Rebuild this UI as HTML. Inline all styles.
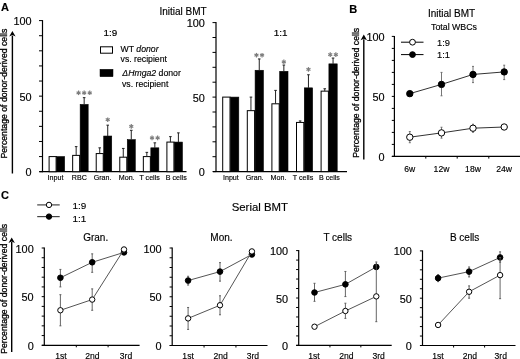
<!DOCTYPE html>
<html><head><meta charset="utf-8"><style>
html,body{margin:0;padding:0;background:#fff;}
svg{display:block;font-family:"Liberation Sans", sans-serif;will-change:transform;filter:blur(0.35px);}
text{stroke:#000;stroke-width:0.15px;}
</style></head><body>
<svg width="520" height="359" viewBox="0 0 520 359">
<rect width="520" height="359" fill="#fff"/>
<text x="1.00" y="10.60" font-size="11" text-anchor="start" font-weight="bold" font-style="normal" fill="#000" >A</text>
<text x="159.50" y="14.80" font-size="10" text-anchor="start" font-weight="normal" font-style="normal" fill="#000" >Initial BMT</text>
<text x="0" y="0" font-size="8.8" text-anchor="middle" style="stroke-width:0.3px" transform="translate(7.20,93.60) rotate(-90)" textLength="130" lengthAdjust="spacingAndGlyphs">Percentage of donor-derived cells</text>
<line x1="12.40" y1="173.50" x2="12.40" y2="35.60" stroke="#000" stroke-width="1.4"/>
<path d="M9.20,36.60 L12.40,31.00 L15.60,36.60 L12.40,35.10 Z" fill="#000"/>
<line x1="42.50" y1="20.10" x2="42.50" y2="172.20" stroke="#000" stroke-width="1.2"/>
<line x1="39.00" y1="171.70" x2="42.50" y2="171.70" stroke="#000" stroke-width="1"/>
<line x1="39.00" y1="156.59" x2="42.50" y2="156.59" stroke="#000" stroke-width="1"/>
<line x1="39.00" y1="141.48" x2="42.50" y2="141.48" stroke="#000" stroke-width="1"/>
<line x1="39.00" y1="126.37" x2="42.50" y2="126.37" stroke="#000" stroke-width="1"/>
<line x1="39.00" y1="111.26" x2="42.50" y2="111.26" stroke="#000" stroke-width="1"/>
<line x1="39.00" y1="96.15" x2="42.50" y2="96.15" stroke="#000" stroke-width="1"/>
<line x1="39.00" y1="81.04" x2="42.50" y2="81.04" stroke="#000" stroke-width="1"/>
<line x1="39.00" y1="65.93" x2="42.50" y2="65.93" stroke="#000" stroke-width="1"/>
<line x1="39.00" y1="50.82" x2="42.50" y2="50.82" stroke="#000" stroke-width="1"/>
<line x1="39.00" y1="35.71" x2="42.50" y2="35.71" stroke="#000" stroke-width="1"/>
<line x1="39.00" y1="20.60" x2="42.50" y2="20.60" stroke="#000" stroke-width="1"/>
<line x1="39.50" y1="171.70" x2="186.50" y2="171.70" stroke="#000" stroke-width="1.2"/>
<text x="31.60" y="176.20" font-size="10.9" text-anchor="end" font-weight="normal" font-style="normal" fill="#000" >0</text>
<text x="31.60" y="100.65" font-size="10.9" text-anchor="end" font-weight="normal" font-style="normal" fill="#000" >50</text>
<text x="31.60" y="25.10" font-size="10.9" text-anchor="end" font-weight="normal" font-style="normal" fill="#000" >100</text>
<rect x="49.10" y="156.59" width="7.00" height="15.11" fill="#fff" stroke="#000" stroke-width="1"/>
<rect x="56.60" y="156.59" width="8.00" height="15.11" fill="#000" stroke="#000" stroke-width="0.6"/>
<text x="55.50" y="180.20" font-size="7.1" text-anchor="middle" font-weight="normal" font-style="normal" fill="#000" >Input</text>
<rect x="72.66" y="155.38" width="7.00" height="16.32" fill="#fff" stroke="#000" stroke-width="1"/>
<rect x="80.16" y="104.46" width="8.00" height="67.24" fill="#000" stroke="#000" stroke-width="0.6"/>
<line x1="76.16" y1="155.38" x2="76.16" y2="146.62" stroke="#222" stroke-width="1.0"/>
<line x1="74.86" y1="146.62" x2="77.46" y2="146.62" stroke="#222" stroke-width="1.0"/>
<line x1="84.16" y1="104.46" x2="84.16" y2="97.66" stroke="#222" stroke-width="1.0"/>
<line x1="82.86" y1="97.66" x2="85.46" y2="97.66" stroke="#222" stroke-width="1.0"/>
<line x1="78.56" y1="90.50" x2="78.56" y2="95.10" stroke="#7c7c7c" stroke-width="1.2"/>
<line x1="76.57" y1="91.65" x2="80.55" y2="93.95" stroke="#7c7c7c" stroke-width="1.2"/>
<line x1="76.57" y1="93.95" x2="80.55" y2="91.65" stroke="#7c7c7c" stroke-width="1.2"/>
<line x1="84.16" y1="90.50" x2="84.16" y2="95.10" stroke="#7c7c7c" stroke-width="1.2"/>
<line x1="82.17" y1="91.65" x2="86.15" y2="93.95" stroke="#7c7c7c" stroke-width="1.2"/>
<line x1="82.17" y1="93.95" x2="86.15" y2="91.65" stroke="#7c7c7c" stroke-width="1.2"/>
<line x1="89.76" y1="90.50" x2="89.76" y2="95.10" stroke="#7c7c7c" stroke-width="1.2"/>
<line x1="87.77" y1="91.65" x2="91.75" y2="93.95" stroke="#7c7c7c" stroke-width="1.2"/>
<line x1="87.77" y1="93.95" x2="91.75" y2="91.65" stroke="#7c7c7c" stroke-width="1.2"/>
<text x="79.30" y="180.20" font-size="7.1" text-anchor="middle" font-weight="normal" font-style="normal" fill="#000" >RBC</text>
<rect x="96.22" y="153.57" width="7.00" height="18.13" fill="#fff" stroke="#000" stroke-width="1"/>
<rect x="103.72" y="136.04" width="8.00" height="35.66" fill="#000" stroke="#000" stroke-width="0.6"/>
<line x1="99.72" y1="153.57" x2="99.72" y2="147.83" stroke="#222" stroke-width="1.0"/>
<line x1="98.42" y1="147.83" x2="101.02" y2="147.83" stroke="#222" stroke-width="1.0"/>
<line x1="107.72" y1="136.04" x2="107.72" y2="125.16" stroke="#222" stroke-width="1.0"/>
<line x1="106.42" y1="125.16" x2="109.02" y2="125.16" stroke="#222" stroke-width="1.0"/>
<line x1="107.72" y1="117.40" x2="107.72" y2="122.00" stroke="#7c7c7c" stroke-width="1.2"/>
<line x1="105.73" y1="118.55" x2="109.71" y2="120.85" stroke="#7c7c7c" stroke-width="1.2"/>
<line x1="105.73" y1="120.85" x2="109.71" y2="118.55" stroke="#7c7c7c" stroke-width="1.2"/>
<text x="102.60" y="180.20" font-size="7.1" text-anchor="middle" font-weight="normal" font-style="normal" fill="#000" >Gran.</text>
<rect x="119.78" y="157.19" width="7.00" height="14.51" fill="#fff" stroke="#000" stroke-width="1"/>
<rect x="127.28" y="139.67" width="8.00" height="32.03" fill="#000" stroke="#000" stroke-width="0.6"/>
<line x1="123.28" y1="157.19" x2="123.28" y2="148.43" stroke="#222" stroke-width="1.0"/>
<line x1="121.98" y1="148.43" x2="124.58" y2="148.43" stroke="#222" stroke-width="1.0"/>
<line x1="131.28" y1="139.67" x2="131.28" y2="130.30" stroke="#222" stroke-width="1.0"/>
<line x1="129.98" y1="130.30" x2="132.58" y2="130.30" stroke="#222" stroke-width="1.0"/>
<line x1="131.28" y1="124.10" x2="131.28" y2="128.70" stroke="#7c7c7c" stroke-width="1.2"/>
<line x1="129.29" y1="125.25" x2="133.27" y2="127.55" stroke="#7c7c7c" stroke-width="1.2"/>
<line x1="129.29" y1="127.55" x2="133.27" y2="125.25" stroke="#7c7c7c" stroke-width="1.2"/>
<text x="126.70" y="180.20" font-size="7.1" text-anchor="middle" font-weight="normal" font-style="normal" fill="#000" >Mon.</text>
<rect x="143.34" y="156.59" width="7.00" height="15.11" fill="#fff" stroke="#000" stroke-width="1"/>
<rect x="150.84" y="147.83" width="8.00" height="23.87" fill="#000" stroke="#000" stroke-width="0.6"/>
<line x1="146.84" y1="156.59" x2="146.84" y2="152.36" stroke="#222" stroke-width="1.0"/>
<line x1="145.54" y1="152.36" x2="148.14" y2="152.36" stroke="#222" stroke-width="1.0"/>
<line x1="154.84" y1="147.83" x2="154.84" y2="142.84" stroke="#222" stroke-width="1.0"/>
<line x1="153.54" y1="142.84" x2="156.14" y2="142.84" stroke="#222" stroke-width="1.0"/>
<line x1="152.04" y1="135.60" x2="152.04" y2="140.20" stroke="#7c7c7c" stroke-width="1.2"/>
<line x1="150.05" y1="136.75" x2="154.03" y2="139.05" stroke="#7c7c7c" stroke-width="1.2"/>
<line x1="150.05" y1="139.05" x2="154.03" y2="136.75" stroke="#7c7c7c" stroke-width="1.2"/>
<line x1="157.64" y1="135.60" x2="157.64" y2="140.20" stroke="#7c7c7c" stroke-width="1.2"/>
<line x1="155.65" y1="136.75" x2="159.63" y2="139.05" stroke="#7c7c7c" stroke-width="1.2"/>
<line x1="155.65" y1="139.05" x2="159.63" y2="136.75" stroke="#7c7c7c" stroke-width="1.2"/>
<text x="149.60" y="180.20" font-size="7.1" text-anchor="middle" font-weight="normal" font-style="normal" fill="#000" >T cells</text>
<rect x="166.90" y="142.08" width="7.00" height="29.62" fill="#fff" stroke="#000" stroke-width="1"/>
<rect x="174.40" y="142.08" width="8.00" height="29.62" fill="#000" stroke="#000" stroke-width="0.6"/>
<line x1="170.40" y1="142.08" x2="170.40" y2="136.64" stroke="#222" stroke-width="1.0"/>
<line x1="169.10" y1="136.64" x2="171.70" y2="136.64" stroke="#222" stroke-width="1.0"/>
<line x1="178.40" y1="142.08" x2="178.40" y2="132.87" stroke="#222" stroke-width="1.0"/>
<line x1="177.10" y1="132.87" x2="179.70" y2="132.87" stroke="#222" stroke-width="1.0"/>
<text x="176.30" y="180.20" font-size="7.1" text-anchor="middle" font-weight="normal" font-style="normal" fill="#000" >B cells</text>
<text x="103.60" y="36.30" font-size="9.9" text-anchor="start" font-weight="normal" font-style="normal" fill="#000" style="stroke-width:0.2px">1:9</text>
<rect x="100.50" y="46.80" width="12.00" height="6.40" fill="#fff" stroke="#000" stroke-width="1"/>
<rect x="100.00" y="69.30" width="13.00" height="7.40" fill="#000" stroke="#000" stroke-width="0.5"/>
<text x="120.6" y="51.9" font-size="8.7">WT <tspan font-style="italic">donor</tspan></text>
<text x="120.60" y="62.40" font-size="8.7" text-anchor="start" font-weight="normal" font-style="normal" fill="#000" >vs. recipient</text>
<text x="122.3" y="76.0" font-size="8.7"><tspan font-style="italic">ΔHmga2</tspan> donor</text>
<text x="122.00" y="86.50" font-size="8.7" text-anchor="start" font-weight="normal" font-style="normal" fill="#000" >vs. recipient</text>
<line x1="216.00" y1="22.10" x2="216.00" y2="172.10" stroke="#000" stroke-width="1.2"/>
<line x1="212.50" y1="171.60" x2="216.00" y2="171.60" stroke="#000" stroke-width="1"/>
<line x1="212.50" y1="156.70" x2="216.00" y2="156.70" stroke="#000" stroke-width="1"/>
<line x1="212.50" y1="141.80" x2="216.00" y2="141.80" stroke="#000" stroke-width="1"/>
<line x1="212.50" y1="126.90" x2="216.00" y2="126.90" stroke="#000" stroke-width="1"/>
<line x1="212.50" y1="112.00" x2="216.00" y2="112.00" stroke="#000" stroke-width="1"/>
<line x1="212.50" y1="97.10" x2="216.00" y2="97.10" stroke="#000" stroke-width="1"/>
<line x1="212.50" y1="82.20" x2="216.00" y2="82.20" stroke="#000" stroke-width="1"/>
<line x1="212.50" y1="67.30" x2="216.00" y2="67.30" stroke="#000" stroke-width="1"/>
<line x1="212.50" y1="52.40" x2="216.00" y2="52.40" stroke="#000" stroke-width="1"/>
<line x1="212.50" y1="37.50" x2="216.00" y2="37.50" stroke="#000" stroke-width="1"/>
<line x1="212.50" y1="22.60" x2="216.00" y2="22.60" stroke="#000" stroke-width="1"/>
<line x1="213.00" y1="171.60" x2="347.00" y2="171.60" stroke="#000" stroke-width="1.2"/>
<text x="204.80" y="176.10" font-size="10.9" text-anchor="end" font-weight="normal" font-style="normal" fill="#000" >0</text>
<text x="204.80" y="101.60" font-size="10.9" text-anchor="end" font-weight="normal" font-style="normal" fill="#000" >50</text>
<text x="204.80" y="27.10" font-size="10.9" text-anchor="end" font-weight="normal" font-style="normal" fill="#000" >100</text>
<text x="273.80" y="36.10" font-size="9.9" text-anchor="start" font-weight="normal" font-style="normal" fill="#000" style="stroke-width:0.2px">1:1</text>
<rect x="222.70" y="97.10" width="7.30" height="74.50" fill="#fff" stroke="#000" stroke-width="1"/>
<rect x="230.50" y="97.10" width="8.30" height="74.50" fill="#000" stroke="#000" stroke-width="0.6"/>
<text x="230.90" y="180.20" font-size="7.1" text-anchor="middle" font-weight="normal" font-style="normal" fill="#000" >Input</text>
<rect x="247.30" y="110.66" width="7.30" height="60.94" fill="#fff" stroke="#000" stroke-width="1"/>
<rect x="255.10" y="70.28" width="8.30" height="101.32" fill="#000" stroke="#000" stroke-width="0.6"/>
<line x1="250.95" y1="110.66" x2="250.95" y2="97.10" stroke="#222" stroke-width="1.0"/>
<line x1="249.65" y1="97.10" x2="252.25" y2="97.10" stroke="#222" stroke-width="1.0"/>
<line x1="259.25" y1="70.28" x2="259.25" y2="58.96" stroke="#222" stroke-width="1.0"/>
<line x1="257.95" y1="58.96" x2="260.55" y2="58.96" stroke="#222" stroke-width="1.0"/>
<line x1="256.45" y1="52.90" x2="256.45" y2="57.50" stroke="#7c7c7c" stroke-width="1.2"/>
<line x1="254.46" y1="54.05" x2="258.44" y2="56.35" stroke="#7c7c7c" stroke-width="1.2"/>
<line x1="254.46" y1="56.35" x2="258.44" y2="54.05" stroke="#7c7c7c" stroke-width="1.2"/>
<line x1="262.05" y1="52.90" x2="262.05" y2="57.50" stroke="#7c7c7c" stroke-width="1.2"/>
<line x1="260.06" y1="54.05" x2="264.04" y2="56.35" stroke="#7c7c7c" stroke-width="1.2"/>
<line x1="260.06" y1="56.35" x2="264.04" y2="54.05" stroke="#7c7c7c" stroke-width="1.2"/>
<text x="254.70" y="180.20" font-size="7.1" text-anchor="middle" font-weight="normal" font-style="normal" fill="#000" >Gran.</text>
<rect x="271.90" y="103.80" width="7.30" height="67.80" fill="#fff" stroke="#000" stroke-width="1"/>
<rect x="279.70" y="71.32" width="8.30" height="100.28" fill="#000" stroke="#000" stroke-width="0.6"/>
<line x1="275.55" y1="103.80" x2="275.55" y2="90.39" stroke="#222" stroke-width="1.0"/>
<line x1="274.25" y1="90.39" x2="276.85" y2="90.39" stroke="#222" stroke-width="1.0"/>
<line x1="283.85" y1="71.32" x2="283.85" y2="65.06" stroke="#222" stroke-width="1.0"/>
<line x1="282.55" y1="65.06" x2="285.15" y2="65.06" stroke="#222" stroke-width="1.0"/>
<line x1="283.85" y1="59.50" x2="283.85" y2="64.10" stroke="#7c7c7c" stroke-width="1.2"/>
<line x1="281.86" y1="60.65" x2="285.84" y2="62.95" stroke="#7c7c7c" stroke-width="1.2"/>
<line x1="281.86" y1="62.95" x2="285.84" y2="60.65" stroke="#7c7c7c" stroke-width="1.2"/>
<text x="278.50" y="180.20" font-size="7.1" text-anchor="middle" font-weight="normal" font-style="normal" fill="#000" >Mon.</text>
<rect x="296.50" y="122.43" width="7.30" height="49.17" fill="#fff" stroke="#000" stroke-width="1"/>
<rect x="304.30" y="87.86" width="8.30" height="83.74" fill="#000" stroke="#000" stroke-width="0.6"/>
<line x1="300.15" y1="122.43" x2="300.15" y2="120.94" stroke="#222" stroke-width="1.0"/>
<line x1="298.85" y1="120.94" x2="301.45" y2="120.94" stroke="#222" stroke-width="1.0"/>
<line x1="308.45" y1="87.86" x2="308.45" y2="74.75" stroke="#222" stroke-width="1.0"/>
<line x1="307.15" y1="74.75" x2="309.75" y2="74.75" stroke="#222" stroke-width="1.0"/>
<line x1="308.45" y1="67.10" x2="308.45" y2="71.70" stroke="#7c7c7c" stroke-width="1.2"/>
<line x1="306.46" y1="68.25" x2="310.44" y2="70.55" stroke="#7c7c7c" stroke-width="1.2"/>
<line x1="306.46" y1="70.55" x2="310.44" y2="68.25" stroke="#7c7c7c" stroke-width="1.2"/>
<text x="303.00" y="180.20" font-size="7.1" text-anchor="middle" font-weight="normal" font-style="normal" fill="#000" >T cells</text>
<rect x="321.10" y="91.14" width="7.30" height="80.46" fill="#fff" stroke="#000" stroke-width="1"/>
<rect x="328.90" y="63.87" width="8.30" height="107.73" fill="#000" stroke="#000" stroke-width="0.6"/>
<line x1="324.75" y1="91.14" x2="324.75" y2="88.76" stroke="#222" stroke-width="1.0"/>
<line x1="323.45" y1="88.76" x2="326.05" y2="88.76" stroke="#222" stroke-width="1.0"/>
<line x1="333.05" y1="63.87" x2="333.05" y2="58.06" stroke="#222" stroke-width="1.0"/>
<line x1="331.75" y1="58.06" x2="334.35" y2="58.06" stroke="#222" stroke-width="1.0"/>
<line x1="330.25" y1="52.30" x2="330.25" y2="56.90" stroke="#7c7c7c" stroke-width="1.2"/>
<line x1="328.26" y1="53.45" x2="332.24" y2="55.75" stroke="#7c7c7c" stroke-width="1.2"/>
<line x1="328.26" y1="55.75" x2="332.24" y2="53.45" stroke="#7c7c7c" stroke-width="1.2"/>
<line x1="335.85" y1="52.30" x2="335.85" y2="56.90" stroke="#7c7c7c" stroke-width="1.2"/>
<line x1="333.86" y1="53.45" x2="337.84" y2="55.75" stroke="#7c7c7c" stroke-width="1.2"/>
<line x1="333.86" y1="55.75" x2="337.84" y2="53.45" stroke="#7c7c7c" stroke-width="1.2"/>
<text x="329.40" y="180.20" font-size="7.1" text-anchor="middle" font-weight="normal" font-style="normal" fill="#000" >B cells</text>
<text x="349.20" y="13.30" font-size="11" text-anchor="start" font-weight="bold" font-style="normal" fill="#000" >B</text>
<text x="428.00" y="17.00" font-size="10" text-anchor="start" font-weight="normal" font-style="normal" fill="#000" >Initial BMT</text>
<text x="431.00" y="29.60" font-size="8.8" text-anchor="start" font-weight="normal" font-style="normal" fill="#000" >Total WBCs</text>
<text x="0" y="0" font-size="8.8" text-anchor="middle" style="stroke-width:0.3px" transform="translate(359.20,92.80) rotate(-90)" textLength="130" lengthAdjust="spacingAndGlyphs">Percentage of donor-derived cells</text>
<line x1="363.80" y1="159.50" x2="363.80" y2="39.20" stroke="#000" stroke-width="1.4"/>
<path d="M360.60,40.20 L363.80,34.60 L367.00,40.20 L363.80,38.70 Z" fill="#000"/>
<line x1="401.00" y1="42.20" x2="423.50" y2="42.20" stroke="#000" stroke-width="1"/>
<circle cx="412.50" cy="42.20" r="2.9" fill="#fff" stroke="#000" stroke-width="1"/>
<line x1="401.00" y1="54.60" x2="423.50" y2="54.60" stroke="#000" stroke-width="1"/>
<circle cx="412.50" cy="54.60" r="2.9" fill="#000" stroke="#000" stroke-width="1"/>
<text x="437.00" y="45.60" font-size="9.3" text-anchor="start" font-weight="normal" font-style="normal" fill="#000" >1:9</text>
<text x="437.00" y="58.40" font-size="9.3" text-anchor="start" font-weight="normal" font-style="normal" fill="#000" >1:1</text>
<line x1="394.40" y1="35.90" x2="394.40" y2="156.90" stroke="#000" stroke-width="1.2"/>
<line x1="391.80" y1="156.40" x2="394.40" y2="156.40" stroke="#000" stroke-width="1"/>
<line x1="391.80" y1="144.40" x2="394.40" y2="144.40" stroke="#000" stroke-width="1"/>
<line x1="391.80" y1="132.40" x2="394.40" y2="132.40" stroke="#000" stroke-width="1"/>
<line x1="391.80" y1="120.40" x2="394.40" y2="120.40" stroke="#000" stroke-width="1"/>
<line x1="391.80" y1="108.40" x2="394.40" y2="108.40" stroke="#000" stroke-width="1"/>
<line x1="391.80" y1="96.40" x2="394.40" y2="96.40" stroke="#000" stroke-width="1"/>
<line x1="391.80" y1="84.40" x2="394.40" y2="84.40" stroke="#000" stroke-width="1"/>
<line x1="391.80" y1="72.40" x2="394.40" y2="72.40" stroke="#000" stroke-width="1"/>
<line x1="391.80" y1="60.40" x2="394.40" y2="60.40" stroke="#000" stroke-width="1"/>
<line x1="391.80" y1="48.40" x2="394.40" y2="48.40" stroke="#000" stroke-width="1"/>
<line x1="391.80" y1="36.40" x2="394.40" y2="36.40" stroke="#000" stroke-width="1"/>
<line x1="391.90" y1="156.40" x2="520.00" y2="156.40" stroke="#000" stroke-width="1.2"/>
<line x1="425.80" y1="156.40" x2="425.80" y2="158.60" stroke="#000" stroke-width="1"/>
<line x1="457.20" y1="156.40" x2="457.20" y2="158.60" stroke="#000" stroke-width="1"/>
<line x1="488.80" y1="156.40" x2="488.80" y2="158.60" stroke="#000" stroke-width="1"/>
<text x="384.60" y="160.90" font-size="10.9" text-anchor="end" font-weight="normal" font-style="normal" fill="#000" >0</text>
<text x="384.60" y="100.90" font-size="10.9" text-anchor="end" font-weight="normal" font-style="normal" fill="#000" >50</text>
<text x="384.60" y="40.90" font-size="10.9" text-anchor="end" font-weight="normal" font-style="normal" fill="#000" >100</text>
<text x="409.80" y="171.60" font-size="8.6" text-anchor="middle" font-weight="normal" font-style="normal" fill="#000" >6w</text>
<text x="441.50" y="171.60" font-size="8.6" text-anchor="middle" font-weight="normal" font-style="normal" fill="#000" >12w</text>
<text x="473.00" y="171.60" font-size="8.6" text-anchor="middle" font-weight="normal" font-style="normal" fill="#000" >18w</text>
<text x="504.20" y="171.60" font-size="8.6" text-anchor="middle" font-weight="normal" font-style="normal" fill="#000" >24w</text>
<line x1="409.80" y1="131.56" x2="409.80" y2="142.72" stroke="#666" stroke-width="0.9"/>
<line x1="408.80" y1="131.56" x2="410.80" y2="131.56" stroke="#666" stroke-width="0.9"/>
<line x1="408.80" y1="142.72" x2="410.80" y2="142.72" stroke="#666" stroke-width="0.9"/>
<line x1="441.50" y1="127.24" x2="441.50" y2="138.16" stroke="#666" stroke-width="0.9"/>
<line x1="440.50" y1="127.24" x2="442.50" y2="127.24" stroke="#666" stroke-width="0.9"/>
<line x1="440.50" y1="138.16" x2="442.50" y2="138.16" stroke="#666" stroke-width="0.9"/>
<line x1="473.00" y1="124.24" x2="473.00" y2="132.28" stroke="#666" stroke-width="0.9"/>
<line x1="472.00" y1="124.24" x2="474.00" y2="124.24" stroke="#666" stroke-width="0.9"/>
<line x1="472.00" y1="132.28" x2="474.00" y2="132.28" stroke="#666" stroke-width="0.9"/>
<line x1="504.20" y1="125.20" x2="504.20" y2="128.80" stroke="#666" stroke-width="0.9"/>
<line x1="503.20" y1="125.20" x2="505.20" y2="125.20" stroke="#666" stroke-width="0.9"/>
<line x1="503.20" y1="128.80" x2="505.20" y2="128.80" stroke="#666" stroke-width="0.9"/>
<path d="M409.80,137.20 L441.50,132.88 L473.00,128.20 L504.20,127.00" fill="none" stroke="#333" stroke-width="1"/>
<circle cx="409.80" cy="137.20" r="3.2" fill="#fff" stroke="#000" stroke-width="1"/>
<circle cx="441.50" cy="132.88" r="3.2" fill="#fff" stroke="#000" stroke-width="1"/>
<circle cx="473.00" cy="128.20" r="3.2" fill="#fff" stroke="#000" stroke-width="1"/>
<circle cx="504.20" cy="127.00" r="3.2" fill="#fff" stroke="#000" stroke-width="1"/>
<line x1="409.80" y1="91.60" x2="409.80" y2="95.80" stroke="#666" stroke-width="0.9"/>
<line x1="408.80" y1="91.60" x2="410.80" y2="91.60" stroke="#666" stroke-width="0.9"/>
<line x1="408.80" y1="95.80" x2="410.80" y2="95.80" stroke="#666" stroke-width="0.9"/>
<line x1="441.50" y1="72.40" x2="441.50" y2="95.80" stroke="#666" stroke-width="0.9"/>
<line x1="440.50" y1="72.40" x2="442.50" y2="72.40" stroke="#666" stroke-width="0.9"/>
<line x1="440.50" y1="95.80" x2="442.50" y2="95.80" stroke="#666" stroke-width="0.9"/>
<line x1="473.00" y1="66.40" x2="473.00" y2="82.60" stroke="#666" stroke-width="0.9"/>
<line x1="472.00" y1="66.40" x2="474.00" y2="66.40" stroke="#666" stroke-width="0.9"/>
<line x1="472.00" y1="82.60" x2="474.00" y2="82.60" stroke="#666" stroke-width="0.9"/>
<line x1="504.20" y1="65.20" x2="504.20" y2="79.60" stroke="#666" stroke-width="0.9"/>
<line x1="503.20" y1="65.20" x2="505.20" y2="65.20" stroke="#666" stroke-width="0.9"/>
<line x1="503.20" y1="79.60" x2="505.20" y2="79.60" stroke="#666" stroke-width="0.9"/>
<path d="M409.80,93.64 L441.50,84.40 L473.00,74.44 L504.20,71.92" fill="none" stroke="#333" stroke-width="1"/>
<circle cx="409.80" cy="93.64" r="3.2" fill="#000" stroke="#000" stroke-width="1"/>
<circle cx="441.50" cy="84.40" r="3.2" fill="#000" stroke="#000" stroke-width="1"/>
<circle cx="473.00" cy="74.44" r="3.2" fill="#000" stroke="#000" stroke-width="1"/>
<circle cx="504.20" cy="71.92" r="3.2" fill="#000" stroke="#000" stroke-width="1"/>
<text x="1.00" y="198.90" font-size="11" text-anchor="start" font-weight="bold" font-style="normal" fill="#000" >C</text>
<text x="231.70" y="211.00" font-size="11.4" text-anchor="start" font-weight="normal" font-style="normal" fill="#000" >Serial BMT</text>
<line x1="37.20" y1="204.90" x2="59.70" y2="204.90" stroke="#444" stroke-width="1.2"/>
<circle cx="49.00" cy="204.90" r="2.7" fill="#fff" stroke="#000" stroke-width="1"/>
<line x1="37.20" y1="216.60" x2="59.70" y2="216.60" stroke="#444" stroke-width="1.2"/>
<circle cx="49.00" cy="216.60" r="2.7" fill="#000" stroke="#000" stroke-width="1"/>
<text x="72.40" y="208.80" font-size="9.9" text-anchor="start" font-weight="normal" font-style="normal" fill="#000" >1:9</text>
<text x="72.40" y="221.90" font-size="9.9" text-anchor="start" font-weight="normal" font-style="normal" fill="#000" >1:1</text>
<text x="0" y="0" font-size="8.8" text-anchor="middle" style="stroke-width:0.3px" transform="translate(6.50,288.80) rotate(-90)" textLength="130" lengthAdjust="spacingAndGlyphs">Percentage of donor-derived cells</text>
<line x1="11.70" y1="352.00" x2="11.70" y2="242.10" stroke="#000" stroke-width="1.4"/>
<path d="M8.50,243.10 L11.70,237.50 L14.90,243.10 L11.70,241.60 Z" fill="#000"/>
<line x1="44.30" y1="247.50" x2="44.30" y2="345.80" stroke="#000" stroke-width="1.2"/>
<line x1="41.70" y1="345.30" x2="44.30" y2="345.30" stroke="#000" stroke-width="1"/>
<line x1="41.70" y1="335.57" x2="44.30" y2="335.57" stroke="#000" stroke-width="1"/>
<line x1="41.70" y1="325.84" x2="44.30" y2="325.84" stroke="#000" stroke-width="1"/>
<line x1="41.70" y1="316.11" x2="44.30" y2="316.11" stroke="#000" stroke-width="1"/>
<line x1="41.70" y1="306.38" x2="44.30" y2="306.38" stroke="#000" stroke-width="1"/>
<line x1="41.70" y1="296.65" x2="44.30" y2="296.65" stroke="#000" stroke-width="1"/>
<line x1="41.70" y1="286.92" x2="44.30" y2="286.92" stroke="#000" stroke-width="1"/>
<line x1="41.70" y1="277.19" x2="44.30" y2="277.19" stroke="#000" stroke-width="1"/>
<line x1="41.70" y1="267.46" x2="44.30" y2="267.46" stroke="#000" stroke-width="1"/>
<line x1="41.70" y1="257.73" x2="44.30" y2="257.73" stroke="#000" stroke-width="1"/>
<line x1="41.70" y1="248.00" x2="44.30" y2="248.00" stroke="#000" stroke-width="1"/>
<line x1="41.80" y1="345.30" x2="139.60" y2="345.30" stroke="#000" stroke-width="1.2"/>
<line x1="76.30" y1="345.30" x2="76.30" y2="347.30" stroke="#000" stroke-width="1"/>
<line x1="108.10" y1="345.30" x2="108.10" y2="347.30" stroke="#000" stroke-width="1"/>
<text x="33.70" y="349.80" font-size="10.9" text-anchor="end" font-weight="normal" font-style="normal" fill="#000" >0</text>
<text x="33.70" y="301.15" font-size="10.9" text-anchor="end" font-weight="normal" font-style="normal" fill="#000" >50</text>
<text x="33.70" y="252.50" font-size="10.9" text-anchor="end" font-weight="normal" font-style="normal" fill="#000" >100</text>
<text x="83.20" y="240.90" font-size="10" text-anchor="start" font-weight="normal" font-style="normal" fill="#000" >Gran.</text>
<text x="60.90" y="359.00" font-size="8.6" text-anchor="middle" font-weight="normal" font-style="normal" fill="#000" >1st</text>
<text x="92.40" y="359.00" font-size="8.6" text-anchor="middle" font-weight="normal" font-style="normal" fill="#000" >2nd</text>
<text x="126.00" y="359.00" font-size="8.6" text-anchor="middle" font-weight="normal" font-style="normal" fill="#000" >3rd</text>
<line x1="60.40" y1="269.41" x2="60.40" y2="286.92" stroke="#555" stroke-width="0.9"/>
<line x1="59.40" y1="269.41" x2="61.40" y2="269.41" stroke="#555" stroke-width="0.9"/>
<line x1="59.40" y1="286.92" x2="61.40" y2="286.92" stroke="#555" stroke-width="0.9"/>
<line x1="92.20" y1="253.84" x2="92.20" y2="272.32" stroke="#555" stroke-width="0.9"/>
<line x1="91.20" y1="253.84" x2="93.20" y2="253.84" stroke="#555" stroke-width="0.9"/>
<line x1="91.20" y1="272.32" x2="93.20" y2="272.32" stroke="#555" stroke-width="0.9"/>
<path d="M60.40,277.77 L92.20,262.30 L124.00,252.38" fill="none" stroke="#555" stroke-width="1"/>
<circle cx="60.40" cy="277.77" r="2.8" fill="#000" stroke="#000" stroke-width="1"/>
<circle cx="92.20" cy="262.30" r="2.8" fill="#000" stroke="#000" stroke-width="1"/>
<circle cx="124.00" cy="252.38" r="2.8" fill="#000" stroke="#000" stroke-width="1"/>
<line x1="60.40" y1="294.70" x2="60.40" y2="325.84" stroke="#555" stroke-width="0.9"/>
<line x1="59.40" y1="294.70" x2="61.40" y2="294.70" stroke="#555" stroke-width="0.9"/>
<line x1="59.40" y1="325.84" x2="61.40" y2="325.84" stroke="#555" stroke-width="0.9"/>
<line x1="92.20" y1="288.87" x2="92.20" y2="310.27" stroke="#555" stroke-width="0.9"/>
<line x1="91.20" y1="288.87" x2="93.20" y2="288.87" stroke="#555" stroke-width="0.9"/>
<line x1="91.20" y1="310.27" x2="93.20" y2="310.27" stroke="#555" stroke-width="0.9"/>
<path d="M60.40,310.27 L92.20,299.57 L124.00,249.46" fill="none" stroke="#555" stroke-width="1"/>
<circle cx="60.40" cy="310.27" r="2.7" fill="#fff" stroke="#000" stroke-width="1"/>
<circle cx="92.20" cy="299.57" r="2.7" fill="#fff" stroke="#000" stroke-width="1"/>
<circle cx="124.00" cy="249.46" r="2.7" fill="#fff" stroke="#000" stroke-width="1"/>
<line x1="172.20" y1="247.50" x2="172.20" y2="346.00" stroke="#000" stroke-width="1.2"/>
<line x1="169.60" y1="345.50" x2="172.20" y2="345.50" stroke="#000" stroke-width="1"/>
<line x1="169.60" y1="335.75" x2="172.20" y2="335.75" stroke="#000" stroke-width="1"/>
<line x1="169.60" y1="326.00" x2="172.20" y2="326.00" stroke="#000" stroke-width="1"/>
<line x1="169.60" y1="316.25" x2="172.20" y2="316.25" stroke="#000" stroke-width="1"/>
<line x1="169.60" y1="306.50" x2="172.20" y2="306.50" stroke="#000" stroke-width="1"/>
<line x1="169.60" y1="296.75" x2="172.20" y2="296.75" stroke="#000" stroke-width="1"/>
<line x1="169.60" y1="287.00" x2="172.20" y2="287.00" stroke="#000" stroke-width="1"/>
<line x1="169.60" y1="277.25" x2="172.20" y2="277.25" stroke="#000" stroke-width="1"/>
<line x1="169.60" y1="267.50" x2="172.20" y2="267.50" stroke="#000" stroke-width="1"/>
<line x1="169.60" y1="257.75" x2="172.20" y2="257.75" stroke="#000" stroke-width="1"/>
<line x1="169.60" y1="248.00" x2="172.20" y2="248.00" stroke="#000" stroke-width="1"/>
<line x1="169.70" y1="345.50" x2="267.50" y2="345.50" stroke="#000" stroke-width="1.2"/>
<line x1="204.05" y1="345.50" x2="204.05" y2="347.50" stroke="#000" stroke-width="1"/>
<line x1="235.95" y1="345.50" x2="235.95" y2="347.50" stroke="#000" stroke-width="1"/>
<text x="161.60" y="350.00" font-size="10.9" text-anchor="end" font-weight="normal" font-style="normal" fill="#000" >0</text>
<text x="161.60" y="301.25" font-size="10.9" text-anchor="end" font-weight="normal" font-style="normal" fill="#000" >50</text>
<text x="161.60" y="252.50" font-size="10.9" text-anchor="end" font-weight="normal" font-style="normal" fill="#000" >100</text>
<text x="210.30" y="240.90" font-size="10" text-anchor="start" font-weight="normal" font-style="normal" fill="#000" >Mon.</text>
<text x="188.10" y="359.00" font-size="8.6" text-anchor="middle" font-weight="normal" font-style="normal" fill="#000" >1st</text>
<text x="220.70" y="359.00" font-size="8.6" text-anchor="middle" font-weight="normal" font-style="normal" fill="#000" >2nd</text>
<text x="252.90" y="359.00" font-size="8.6" text-anchor="middle" font-weight="normal" font-style="normal" fill="#000" >3rd</text>
<line x1="188.10" y1="276.27" x2="188.10" y2="285.05" stroke="#555" stroke-width="0.9"/>
<line x1="187.10" y1="276.27" x2="189.10" y2="276.27" stroke="#555" stroke-width="0.9"/>
<line x1="187.10" y1="285.05" x2="189.10" y2="285.05" stroke="#555" stroke-width="0.9"/>
<line x1="220.00" y1="262.62" x2="220.00" y2="281.15" stroke="#555" stroke-width="0.9"/>
<line x1="219.00" y1="262.62" x2="221.00" y2="262.62" stroke="#555" stroke-width="0.9"/>
<line x1="219.00" y1="281.15" x2="221.00" y2="281.15" stroke="#555" stroke-width="0.9"/>
<path d="M188.10,280.56 L220.00,271.60 L251.90,254.44" fill="none" stroke="#555" stroke-width="1"/>
<circle cx="188.10" cy="280.56" r="2.8" fill="#000" stroke="#000" stroke-width="1"/>
<circle cx="220.00" cy="271.60" r="2.8" fill="#000" stroke="#000" stroke-width="1"/>
<circle cx="251.90" cy="254.44" r="2.8" fill="#000" stroke="#000" stroke-width="1"/>
<line x1="188.10" y1="307.48" x2="188.10" y2="329.41" stroke="#555" stroke-width="0.9"/>
<line x1="187.10" y1="307.48" x2="189.10" y2="307.48" stroke="#555" stroke-width="0.9"/>
<line x1="187.10" y1="329.41" x2="189.10" y2="329.41" stroke="#555" stroke-width="0.9"/>
<line x1="220.00" y1="295.77" x2="220.00" y2="314.79" stroke="#555" stroke-width="0.9"/>
<line x1="219.00" y1="295.77" x2="221.00" y2="295.77" stroke="#555" stroke-width="0.9"/>
<line x1="219.00" y1="314.79" x2="221.00" y2="314.79" stroke="#555" stroke-width="0.9"/>
<path d="M188.10,318.39 L220.00,305.23 L251.90,251.41" fill="none" stroke="#555" stroke-width="1"/>
<circle cx="188.10" cy="318.39" r="2.7" fill="#fff" stroke="#000" stroke-width="1"/>
<circle cx="220.00" cy="305.23" r="2.7" fill="#fff" stroke="#000" stroke-width="1"/>
<circle cx="251.90" cy="251.41" r="2.7" fill="#fff" stroke="#000" stroke-width="1"/>
<line x1="298.70" y1="250.10" x2="298.70" y2="345.90" stroke="#000" stroke-width="1.2"/>
<line x1="296.10" y1="345.40" x2="298.70" y2="345.40" stroke="#000" stroke-width="1"/>
<line x1="296.10" y1="335.92" x2="298.70" y2="335.92" stroke="#000" stroke-width="1"/>
<line x1="296.10" y1="326.44" x2="298.70" y2="326.44" stroke="#000" stroke-width="1"/>
<line x1="296.10" y1="316.96" x2="298.70" y2="316.96" stroke="#000" stroke-width="1"/>
<line x1="296.10" y1="307.48" x2="298.70" y2="307.48" stroke="#000" stroke-width="1"/>
<line x1="296.10" y1="298.00" x2="298.70" y2="298.00" stroke="#000" stroke-width="1"/>
<line x1="296.10" y1="288.52" x2="298.70" y2="288.52" stroke="#000" stroke-width="1"/>
<line x1="296.10" y1="279.04" x2="298.70" y2="279.04" stroke="#000" stroke-width="1"/>
<line x1="296.10" y1="269.56" x2="298.70" y2="269.56" stroke="#000" stroke-width="1"/>
<line x1="296.10" y1="260.08" x2="298.70" y2="260.08" stroke="#000" stroke-width="1"/>
<line x1="296.10" y1="250.60" x2="298.70" y2="250.60" stroke="#000" stroke-width="1"/>
<line x1="296.20" y1="345.40" x2="391.70" y2="345.40" stroke="#000" stroke-width="1.2"/>
<line x1="329.95" y1="345.40" x2="329.95" y2="347.40" stroke="#000" stroke-width="1"/>
<line x1="360.85" y1="345.40" x2="360.85" y2="347.40" stroke="#000" stroke-width="1"/>
<text x="288.10" y="349.90" font-size="10.9" text-anchor="end" font-weight="normal" font-style="normal" fill="#000" >0</text>
<text x="288.10" y="302.50" font-size="10.9" text-anchor="end" font-weight="normal" font-style="normal" fill="#000" >50</text>
<text x="288.10" y="255.10" font-size="10.9" text-anchor="end" font-weight="normal" font-style="normal" fill="#000" >100</text>
<text x="323.40" y="240.90" font-size="10" text-anchor="start" font-weight="normal" font-style="normal" fill="#000" >T cells</text>
<text x="314.00" y="359.00" font-size="8.6" text-anchor="middle" font-weight="normal" font-style="normal" fill="#000" >1st</text>
<text x="346.40" y="359.00" font-size="8.6" text-anchor="middle" font-weight="normal" font-style="normal" fill="#000" >2nd</text>
<text x="378.60" y="359.00" font-size="8.6" text-anchor="middle" font-weight="normal" font-style="normal" fill="#000" >3rd</text>
<line x1="314.50" y1="283.31" x2="314.50" y2="301.32" stroke="#555" stroke-width="0.9"/>
<line x1="313.50" y1="283.31" x2="315.50" y2="283.31" stroke="#555" stroke-width="0.9"/>
<line x1="313.50" y1="301.32" x2="315.50" y2="301.32" stroke="#555" stroke-width="0.9"/>
<line x1="345.40" y1="271.46" x2="345.40" y2="296.58" stroke="#555" stroke-width="0.9"/>
<line x1="344.40" y1="271.46" x2="346.40" y2="271.46" stroke="#555" stroke-width="0.9"/>
<line x1="344.40" y1="296.58" x2="346.40" y2="296.58" stroke="#555" stroke-width="0.9"/>
<line x1="376.30" y1="261.98" x2="376.30" y2="269.56" stroke="#555" stroke-width="0.9"/>
<line x1="375.30" y1="261.98" x2="377.30" y2="261.98" stroke="#555" stroke-width="0.9"/>
<line x1="375.30" y1="269.56" x2="377.30" y2="269.56" stroke="#555" stroke-width="0.9"/>
<path d="M314.50,292.50 L345.40,284.35 L376.30,266.91" fill="none" stroke="#555" stroke-width="1"/>
<circle cx="314.50" cy="292.50" r="2.8" fill="#000" stroke="#000" stroke-width="1"/>
<circle cx="345.40" cy="284.35" r="2.8" fill="#000" stroke="#000" stroke-width="1"/>
<circle cx="376.30" cy="266.91" r="2.8" fill="#000" stroke="#000" stroke-width="1"/>
<line x1="345.40" y1="303.21" x2="345.40" y2="318.38" stroke="#555" stroke-width="0.9"/>
<line x1="344.40" y1="303.21" x2="346.40" y2="303.21" stroke="#555" stroke-width="0.9"/>
<line x1="344.40" y1="318.38" x2="346.40" y2="318.38" stroke="#555" stroke-width="0.9"/>
<line x1="376.30" y1="264.82" x2="376.30" y2="321.70" stroke="#555" stroke-width="0.9"/>
<line x1="375.30" y1="264.82" x2="377.30" y2="264.82" stroke="#555" stroke-width="0.9"/>
<line x1="375.30" y1="321.70" x2="377.30" y2="321.70" stroke="#555" stroke-width="0.9"/>
<path d="M314.50,326.72 L345.40,310.99 L376.30,296.39" fill="none" stroke="#555" stroke-width="1"/>
<circle cx="314.50" cy="326.72" r="2.7" fill="#fff" stroke="#000" stroke-width="1"/>
<circle cx="345.40" cy="310.99" r="2.7" fill="#fff" stroke="#000" stroke-width="1"/>
<circle cx="376.30" cy="296.39" r="2.7" fill="#fff" stroke="#000" stroke-width="1"/>
<line x1="422.50" y1="250.40" x2="422.50" y2="346.00" stroke="#000" stroke-width="1.2"/>
<line x1="419.90" y1="345.50" x2="422.50" y2="345.50" stroke="#000" stroke-width="1"/>
<line x1="419.90" y1="336.04" x2="422.50" y2="336.04" stroke="#000" stroke-width="1"/>
<line x1="419.90" y1="326.58" x2="422.50" y2="326.58" stroke="#000" stroke-width="1"/>
<line x1="419.90" y1="317.12" x2="422.50" y2="317.12" stroke="#000" stroke-width="1"/>
<line x1="419.90" y1="307.66" x2="422.50" y2="307.66" stroke="#000" stroke-width="1"/>
<line x1="419.90" y1="298.20" x2="422.50" y2="298.20" stroke="#000" stroke-width="1"/>
<line x1="419.90" y1="288.74" x2="422.50" y2="288.74" stroke="#000" stroke-width="1"/>
<line x1="419.90" y1="279.28" x2="422.50" y2="279.28" stroke="#000" stroke-width="1"/>
<line x1="419.90" y1="269.82" x2="422.50" y2="269.82" stroke="#000" stroke-width="1"/>
<line x1="419.90" y1="260.36" x2="422.50" y2="260.36" stroke="#000" stroke-width="1"/>
<line x1="419.90" y1="250.90" x2="422.50" y2="250.90" stroke="#000" stroke-width="1"/>
<line x1="420.00" y1="345.50" x2="515.50" y2="345.50" stroke="#000" stroke-width="1.2"/>
<line x1="453.60" y1="345.50" x2="453.60" y2="347.50" stroke="#000" stroke-width="1"/>
<line x1="484.60" y1="345.50" x2="484.60" y2="347.50" stroke="#000" stroke-width="1"/>
<text x="411.90" y="350.00" font-size="10.9" text-anchor="end" font-weight="normal" font-style="normal" fill="#000" >0</text>
<text x="411.90" y="302.70" font-size="10.9" text-anchor="end" font-weight="normal" font-style="normal" fill="#000" >50</text>
<text x="411.90" y="255.40" font-size="10.9" text-anchor="end" font-weight="normal" font-style="normal" fill="#000" >100</text>
<text x="449.90" y="240.90" font-size="10" text-anchor="start" font-weight="normal" font-style="normal" fill="#000" >B cells</text>
<text x="437.90" y="359.00" font-size="8.6" text-anchor="middle" font-weight="normal" font-style="normal" fill="#000" >1st</text>
<text x="469.80" y="359.00" font-size="8.6" text-anchor="middle" font-weight="normal" font-style="normal" fill="#000" >2nd</text>
<text x="500.80" y="359.00" font-size="8.6" text-anchor="middle" font-weight="normal" font-style="normal" fill="#000" >3rd</text>
<line x1="438.10" y1="274.55" x2="438.10" y2="281.64" stroke="#555" stroke-width="0.9"/>
<line x1="437.10" y1="274.55" x2="439.10" y2="274.55" stroke="#555" stroke-width="0.9"/>
<line x1="437.10" y1="281.64" x2="439.10" y2="281.64" stroke="#555" stroke-width="0.9"/>
<line x1="469.10" y1="266.98" x2="469.10" y2="276.92" stroke="#555" stroke-width="0.9"/>
<line x1="468.10" y1="266.98" x2="470.10" y2="266.98" stroke="#555" stroke-width="0.9"/>
<line x1="468.10" y1="276.92" x2="470.10" y2="276.92" stroke="#555" stroke-width="0.9"/>
<line x1="500.10" y1="251.85" x2="500.10" y2="262.25" stroke="#555" stroke-width="0.9"/>
<line x1="499.10" y1="251.85" x2="501.10" y2="251.85" stroke="#555" stroke-width="0.9"/>
<line x1="499.10" y1="262.25" x2="501.10" y2="262.25" stroke="#555" stroke-width="0.9"/>
<path d="M438.10,278.14 L469.10,271.62 L500.10,257.43" fill="none" stroke="#555" stroke-width="1"/>
<circle cx="438.10" cy="278.14" r="2.8" fill="#000" stroke="#000" stroke-width="1"/>
<circle cx="469.10" cy="271.62" r="2.8" fill="#000" stroke="#000" stroke-width="1"/>
<circle cx="500.10" cy="257.43" r="2.8" fill="#000" stroke="#000" stroke-width="1"/>
<line x1="469.10" y1="285.90" x2="469.10" y2="298.20" stroke="#555" stroke-width="0.9"/>
<line x1="468.10" y1="285.90" x2="470.10" y2="285.90" stroke="#555" stroke-width="0.9"/>
<line x1="468.10" y1="298.20" x2="470.10" y2="298.20" stroke="#555" stroke-width="0.9"/>
<line x1="500.10" y1="257.52" x2="500.10" y2="298.67" stroke="#555" stroke-width="0.9"/>
<line x1="499.10" y1="257.52" x2="501.10" y2="257.52" stroke="#555" stroke-width="0.9"/>
<line x1="499.10" y1="298.67" x2="501.10" y2="298.67" stroke="#555" stroke-width="0.9"/>
<path d="M438.10,324.97 L469.10,291.77 L500.10,275.12" fill="none" stroke="#555" stroke-width="1"/>
<circle cx="438.10" cy="324.97" r="2.7" fill="#fff" stroke="#000" stroke-width="1"/>
<circle cx="469.10" cy="291.77" r="2.7" fill="#fff" stroke="#000" stroke-width="1"/>
<circle cx="500.10" cy="275.12" r="2.7" fill="#fff" stroke="#000" stroke-width="1"/>
</svg>
</body></html>
